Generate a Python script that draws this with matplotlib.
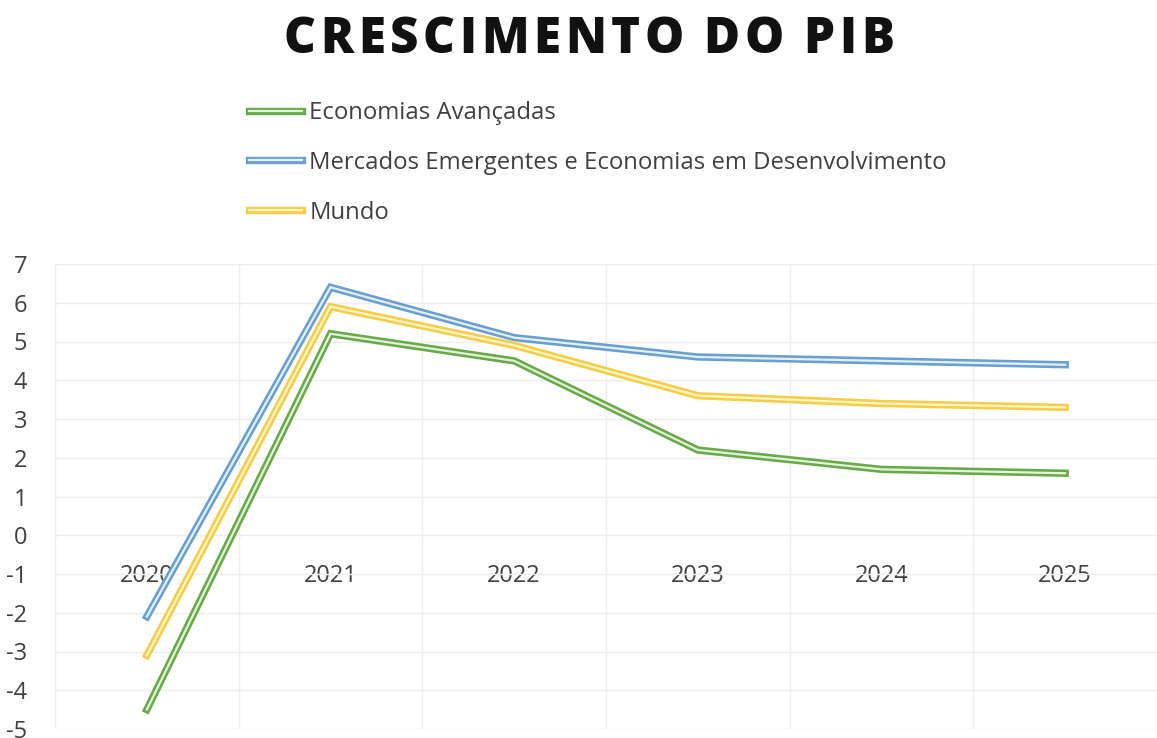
import matplotlib
matplotlib.use("Agg")
import matplotlib.pyplot as plt
import matplotlib.patheffects as pe
import numpy as np

plt.rcParams['font.family'] = ['Open Sans', 'DejaVu Sans']
plt.rcParams['axes.unicode_minus'] = False

anos = ['2020', '2021', '2022', '2023', '2024', '2025']
avancadas = [-4.5, 5.2, 4.5, 2.2, 1.7, 1.6]
emergentes = [-2.1, 6.4, 5.1, 4.6, 4.5, 4.4]
mundo = [-3.1, 5.9, 4.9, 3.6, 3.4, 3.3]

nomes = ['Economias Avançadas',
         'Mercados Emergentes e Economias em Desenvolvimento',
         'Mundo']
titulo = 'CRESCIMENTO DO PIB'
# (cor de fora, cor de dentro) - linha dupla como no Excel
cores = [('#68a94a', '#e4f4d8'), ('#6a9fcf', '#e2f1ff'), ('#f5cd4a', '#fff6c2')]

fig = plt.figure(figsize=(11.57, 7.38), dpi=100)
ax = fig.add_axes([55 / 1157, 9 / 738, 1102 / 1157, 465 / 738])

x = np.arange(len(anos))
linhas = []
for serie, nome, (fora, dentro) in zip([avancadas, emergentes, mundo], nomes, cores):
    l, = ax.plot(x, serie, color=dentro, lw=1.6, label=nome, zorder=3,
                 solid_joinstyle='miter',
                 path_effects=[pe.Stroke(linewidth=5.3, foreground=fora), pe.Normal()])
    linhas.append(l)

ax.set_xlim(-0.5, 5.5)
ax.set_ylim(-5, 7)
ax.set_yticks(range(-5, 8))
ax.set_xticks(x)
ax.set_xticklabels(anos)
ax.set_xticks(np.arange(-0.5, 6, 1), minor=True)

for s in ax.spines.values():
    s.set_visible(False)
ax.spines['bottom'].set_position(('data', 0))

ax.tick_params(axis='both', which='both', length=0)
ax.tick_params(axis='x', which='major', pad=21, labelsize=17, labelcolor='#404040')
ax.tick_params(axis='y', pad=20, labelsize=17, labelcolor='#404040')

ax.grid(axis='y', which='major', color='#eeeeee', lw=1)
ax.grid(axis='x', which='minor', color='#eeeeee', lw=1)
ax.set_axisbelow(True)

# titulo com espaçamento entre letras, letra a letra
r = fig.canvas.get_renderer()
letras = []
for ch in titulo:
    t = fig.text(0, 0.946, ch, ha='left', va='center', fontsize=35.5,
                 fontweight='heavy', color='#111111')
    letras.append(t)
larguras = []
for t in letras:
    if t.get_text() == ' ':
        larguras.append(11)
    else:
        larguras.append(t.get_window_extent(r).width)
esp = (610 - sum(larguras)) / (len(titulo) - 1)
xpos = 284
for t, w in zip(letras, larguras):
    t.set_x(xpos / 1157)
    xpos += w + esp

fig.legend(handles=linhas, loc='upper left', bbox_to_anchor=(237 / 1157, 1 - 89 / 738),
           frameon=False, fontsize=17.2, labelcolor='#404040',
           handlelength=2.2, handletextpad=0.33, labelspacing=1.08, borderpad=0)

fig.savefig('out.png', dpi=100)
